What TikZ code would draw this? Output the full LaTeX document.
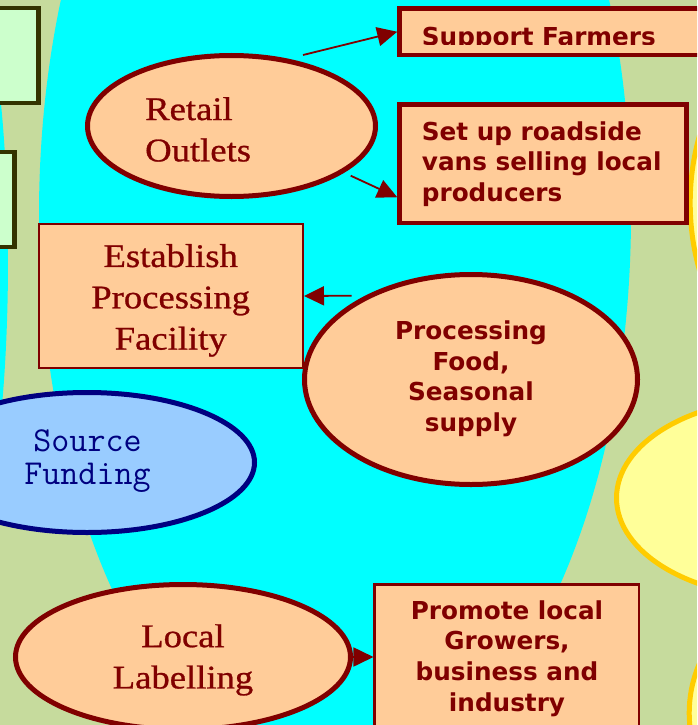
\documentclass[tikz,border=0pt]{standalone}
\usepackage{fontspec}
\usetikzlibrary{shapes.geometric,arrows.meta}
\newfontfamily\serifw[FakeStretch=1.11,FakeBold=0.8]{Liberation Serif}
\newfontfamily\vsans{DejaVu Sans}
\definecolor{bggreen}{RGB}{198,219,157}
\definecolor{aqua}{RGB}{0,255,255}
\definecolor{peach}{RGB}{255,204,153}
\definecolor{dred}{RGB}{128,0,0}
\definecolor{lgreen}{RGB}{204,255,204}
\definecolor{oliv}{RGB}{51,51,0}
\definecolor{lblue}{RGB}{153,204,255}
\definecolor{navyb}{RGB}{0,0,128}
\definecolor{lyellow}{RGB}{255,255,153}
\definecolor{goldb}{RGB}{255,204,0}
\begin{document}
\begin{tikzpicture}[x=1pt,y=-1pt,
  ell/.style={ellipse, draw=dred, fill=peach, line width=5pt, inner sep=0pt},
  pbox/.style={rectangle, draw=dred, fill=peach, inner sep=0pt},
  gbox/.style={draw=oliv, fill=lgreen, line width=4.5pt},
  yell/.style={draw=goldb, fill=lyellow, line width=5pt},
  arr/.style={draw=dred, line width=1.8pt, -{Triangle[length=20pt,width=19pt]}},
  sertxt/.style={inner sep=0pt, text=dred, align=center, font=\serifw\fontsize{33}{41.3}\selectfont},
  santxt/.style={inner sep=0pt, text=dred, align=center, font=\vsans\bfseries\fontsize{24.7}{30.6}\selectfont},
  montxt/.style={inner sep=0pt, text=navyb, align=center, font=\ttfamily\fontsize{35}{33}\selectfont}
]
\path[use as bounding box] (0,0) rectangle (697,725);
\clip (0,0) rectangle (697,725);
% background
\fill[bggreen] (0,0) rectangle (697,725);
\fill[aqua] (335,215) ellipse [x radius=296pt, y radius=569pt];
\fill[aqua] (-40,260) ellipse [x radius=48pt, y radius=300pt];
% side shapes
\draw[gbox] (-20,8) rectangle (38.5,103);
\draw[gbox] (-20,152) rectangle (14.7,247);
\draw[yell] (787.7,203) ellipse [x radius=97.5pt, y radius=157.5pt];
\draw[yell] (784,498) ellipse [x radius=167.5pt, y radius=99.5pt];
\draw[yell] (786.7,713) ellipse [x radius=97.5pt, y radius=110.5pt];
% main shapes
\node[ell, minimum width=288pt, minimum height=141pt] (retail) at (231.5,126) {};
\node[pbox, line width=4.5pt, minimum width=320.5pt, minimum height=46.5pt] (support) at (559.75,31.75) {};
\node[pbox, line width=4.5pt, minimum width=287pt, minimum height=118.5pt] (setup) at (543,163.75) {};
\node[pbox, line width=2pt, minimum width=263.7pt, minimum height=143.4pt] (establish) at (171.15,296) {};
\node[ell, minimum width=333pt, minimum height=210pt] (procfood) at (471,379.5) {};
\node[ell, draw=navyb, fill=lblue, minimum width=335pt, minimum height=140pt] (funding) at (87,462.5) {};
\node[ell, minimum width=335pt, minimum height=145pt] (labelling) at (183,657) {};
\node[pbox, line width=2.5pt, minimum width=264.3pt, minimum height=175.7pt] (promote) at (506.85,672.15) {};
% texts
\node[sertxt, align=left, anchor=west] (retailtxt) at (145,129.4) {Retail\\Outlets};
\node[sertxt] (establishtxt) at (170.7,300.4) {Establish\\Processing\\Facility};
\node[sertxt] (labellingtxt) at (183,659.9) {Local\\Labelling};
\node[montxt] (fundingtxt) at (87.5,461) {Source\\Funding};
\node[santxt] (procfoodtxt) at (471,378.9) {Processing\\Food,\\Seasonal\\supply};
\node[santxt, align=left, anchor=west] (setuptxt) at (421.7,164) {Set up roadside\\vans selling local\\producers};
\node[santxt] (promotetxt) at (507,658.4) {Promote local\\Growers,\\business and\\industry};
\begin{scope}
\clip (0,0) rectangle (697,44.4);
\node[santxt, anchor=base west] (supporttxt) at (421.7,45.3) {Support Farmers};
\end{scope}
% connectors
\coordinate (t1) at (303,55);
\coordinate (t2) at (350.7,175.7);
\coordinate (t3) at (351.7,295.7);
\draw[arr] (t1) -- (support.west);
\draw[arr] (t2) -- ([yshift=28pt]setup.south west);
\draw[arr] (t3) -- (establish.east);
\draw[arr] (labelling.east) -- (labelling.east -| promote.west);
\end{tikzpicture}
\end{document}
